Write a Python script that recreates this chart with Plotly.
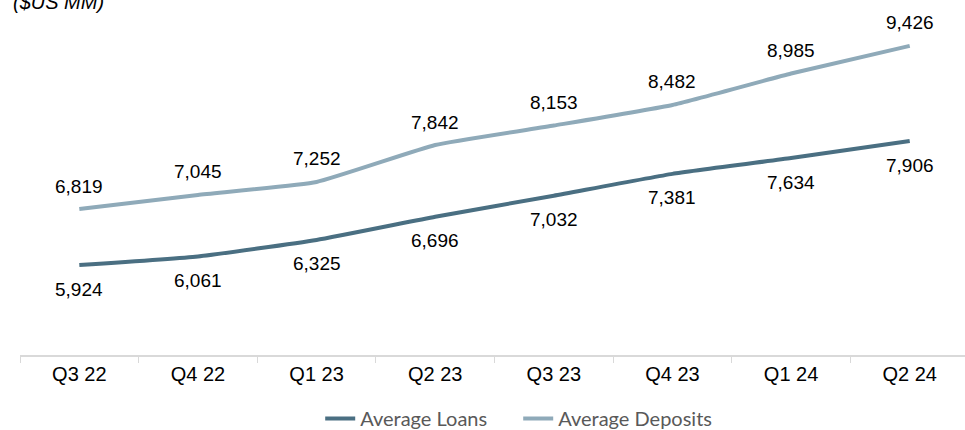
import plotly.graph_objects as go

quarters = ["Q3 22", "Q4 22", "Q1 23", "Q2 23", "Q3 23", "Q4 23", "Q1 24", "Q2 24"]
avg_loans = [5924, 6061, 6325, 6696, 7032, 7381, 7634, 7906]
avg_deposits = [6819, 7045, 7252, 7842, 8153, 8482, 8985, 9426]

loan_color = "#4A6F82"
deposit_color = "#8FAAB9"
label_font = dict(family="Liberation Sans, Arial", size=19, color="#000000")

fig = go.Figure()
fig.add_trace(go.Scatter(
    x=quarters, y=avg_loans, name="Average Loans", mode="lines",
    line=dict(color=loan_color, width=4, shape="spline", smoothing=0.4),
))
fig.add_trace(go.Scatter(
    x=quarters, y=avg_deposits, name="Average Deposits", mode="lines",
    line=dict(color=deposit_color, width=4, shape="spline", smoothing=0.4),
))

# value labels: deposits above the line, loans below
annotations = []
for q, v in zip(quarters, avg_deposits):
    annotations.append(dict(x=q, y=v, xref="x", yref="y", text=f"{v:,}",
                            showarrow=False, yshift=23, font=label_font))
for q, v in zip(quarters, avg_loans):
    annotations.append(dict(x=q, y=v, xref="x", yref="y", text=f"{v:,}",
                            showarrow=False, yshift=-24, font=label_font))
annotations.append(dict(
    text="<i>($US MM)</i>", x=-0.009, xref="paper", xanchor="left",
    y=1.023, yref="paper", yanchor="middle", showarrow=False,
    font=dict(family="Liberation Sans, Arial", size=20, color="#000000"),
))

fig.update_layout(
    width=965, height=430,
    margin=dict(l=20, r=0, t=10, b=75),
    paper_bgcolor="white", plot_bgcolor="white",
    showlegend=True,
    legend=dict(
        orientation="h", xref="container", x=0.537, xanchor="center",
        yref="container", y=0.027, yanchor="middle",
        font=dict(family="Lato, Open Sans", size=20, color="#595959"),
        itemwidth=30, tracegroupgap=0, entrywidth=153,
    ),
    annotations=annotations,
)

fig.update_xaxes(
    type="category", range=[-0.5, 7.466],
    showline=True, linecolor="#D9D9D9", linewidth=1.5,
    ticks="outside", tickson="boundaries", ticklen=6, tickcolor="#D9D9D9",
    showgrid=False, zeroline=False,
    tickfont=dict(family="Liberation Sans, Arial", size=20, color="#000000"),
)
fig.update_yaxes(
    range=[4486, 10000], visible=False, showgrid=False, zeroline=False,
)

fig.write_html("out.html")
